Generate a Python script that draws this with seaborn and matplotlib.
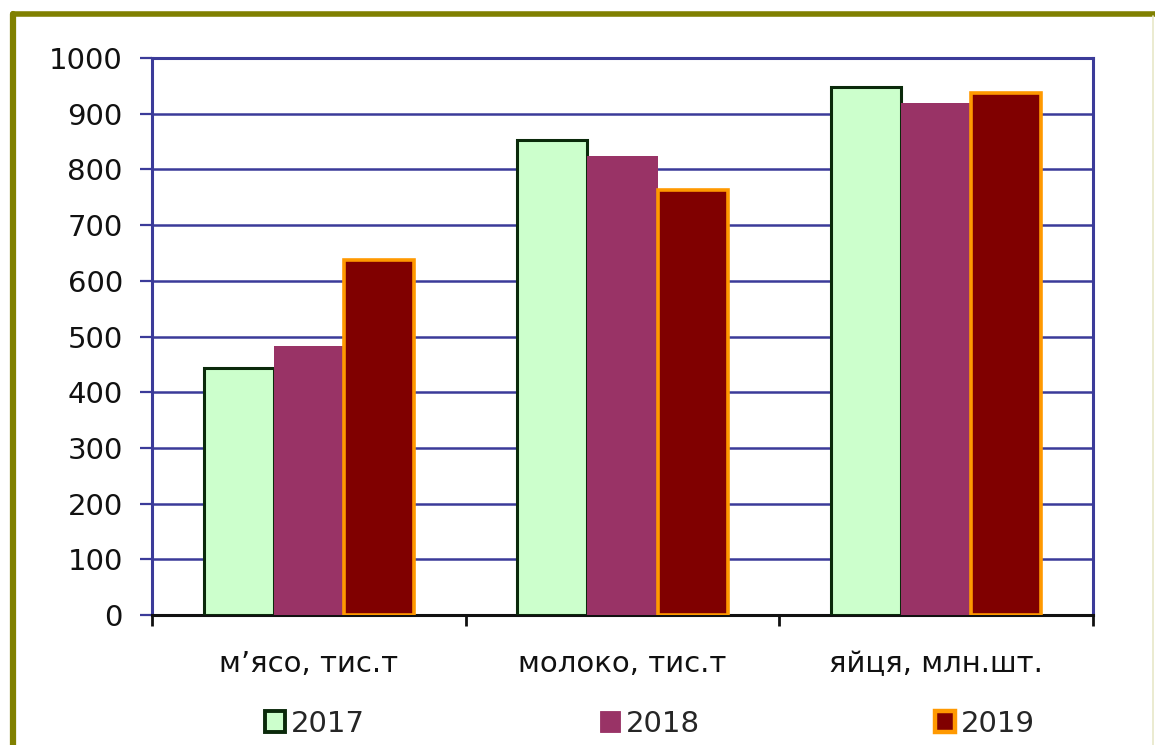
import matplotlib
matplotlib.use("Agg")
import matplotlib.pyplot as plt
from matplotlib.patches import Rectangle
from matplotlib.lines import Line2D
import seaborn as sns
import pandas as pd

# Production by category and year
categories = ["м’ясо, тис.т", "молоко, тис.т", "яйця, млн.шт."]
years = ["2017", "2018", "2019"]
values_2017 = [443, 853, 948]
values_2018 = [483, 824, 919]
values_2019 = [637, 763, 937]
y_ticks = [0, 100, 200, 300, 400, 500, 600, 700, 800, 900, 1000]

fills = {"2017": "#CCFFCC", "2018": "#993366", "2019": "#800000"}
edges = {"2017": "#0B2A0B", "2018": "#993366", "2019": "#FF9900"}
edge_widths = {"2017": 2.2, "2018": 0.0, "2019": 2.6}
grid_color = "#3B3B99"

df = pd.DataFrame({
    "category": categories * 3,
    "year": [years[0]] * 3 + [years[1]] * 3 + [years[2]] * 3,
    "value": values_2017 + values_2018 + values_2019,
})

sns.set_theme(style="white")
plt.rcParams["font.family"] = ["DejaVu Sans"]

fig = plt.figure(figsize=(11.55, 7.45), dpi=100)
ax = fig.add_axes([152 / 1155, 1 - 615 / 745, (1093 - 152) / 1155, (615 - 58) / 745])

sns.barplot(data=df, x="category", y="value", hue="year", order=categories,
            hue_order=years, palette=fills, width=0.67, gap=0, ax=ax,
            legend=False, saturation=1, errorbar=None)

for year, container in zip(years, ax.containers):
    for bar in container.patches:
        bar.set_edgecolor(edges[year])
        bar.set_linewidth(edge_widths[year])
        bar.set_zorder(3)

ax.set_xlim(-0.5, 2.5)
ax.set_ylim(0, 1000)
ax.set_yticks(y_ticks)
ax.set_yticklabels([str(t) for t in y_ticks], fontsize=21, color="#111111")
ax.yaxis.grid(True, color=grid_color, linewidth=1.8, zorder=0)
ax.set_axisbelow(True)
ax.tick_params(axis="y", which="major", length=9, width=1.6, color=grid_color,
               pad=12, left=True)

ax.set_xticks(range(len(categories)))
ax.set_xticklabels(categories, fontsize=21, color="#111111")
ax.tick_params(axis="x", which="major", length=0, pad=25)
ax.set_xticks([-0.5, 0.5, 1.5, 2.5], minor=True)
ax.tick_params(axis="x", which="minor", length=8, width=2.0, color="#111111",
               bottom=True, direction="out")
ax.set_xlabel("")
ax.set_ylabel("")

for side in ["left", "right", "top"]:
    ax.spines[side].set_visible(True)
    ax.spines[side].set_color(grid_color)
    ax.spines[side].set_linewidth(2.2)
ax.spines["bottom"].set_visible(True)
ax.spines["bottom"].set_color("#111111")
ax.spines["bottom"].set_linewidth(2.2)

handles = [Rectangle((0, 0), 1, 1, facecolor=fills[y], edgecolor=edges[y],
                     linewidth=max(edge_widths[y], 0.01) + 0.6) for y in years]
ax.legend(handles, years, loc="center", bbox_to_anchor=(0.529, -0.195), ncol=3,
          frameon=False, fontsize=21, handlelength=0.7, handleheight=0.7,
          handletextpad=0.2, columnspacing=8.05, borderaxespad=0)

# Olive outer frame
frame_color = "#808000"
fig.add_artist(Line2D([13 / 1155, 13 / 1155], [0, 1 - 14 / 745],
                      transform=fig.transFigure, color=frame_color, linewidth=4.5,
                      solid_capstyle="round"))
fig.add_artist(Line2D([13 / 1155, 1.0], [1 - 14 / 745, 1 - 14 / 745],
                      transform=fig.transFigure, color=frame_color, linewidth=4.0,
                      solid_capstyle="round"))
fig.add_artist(Line2D([1153 / 1155, 1153 / 1155], [0, 1 - 16 / 745],
                      transform=fig.transFigure, color="#E8E8C8", linewidth=1.2))

fig.savefig("out.png", dpi=100)
